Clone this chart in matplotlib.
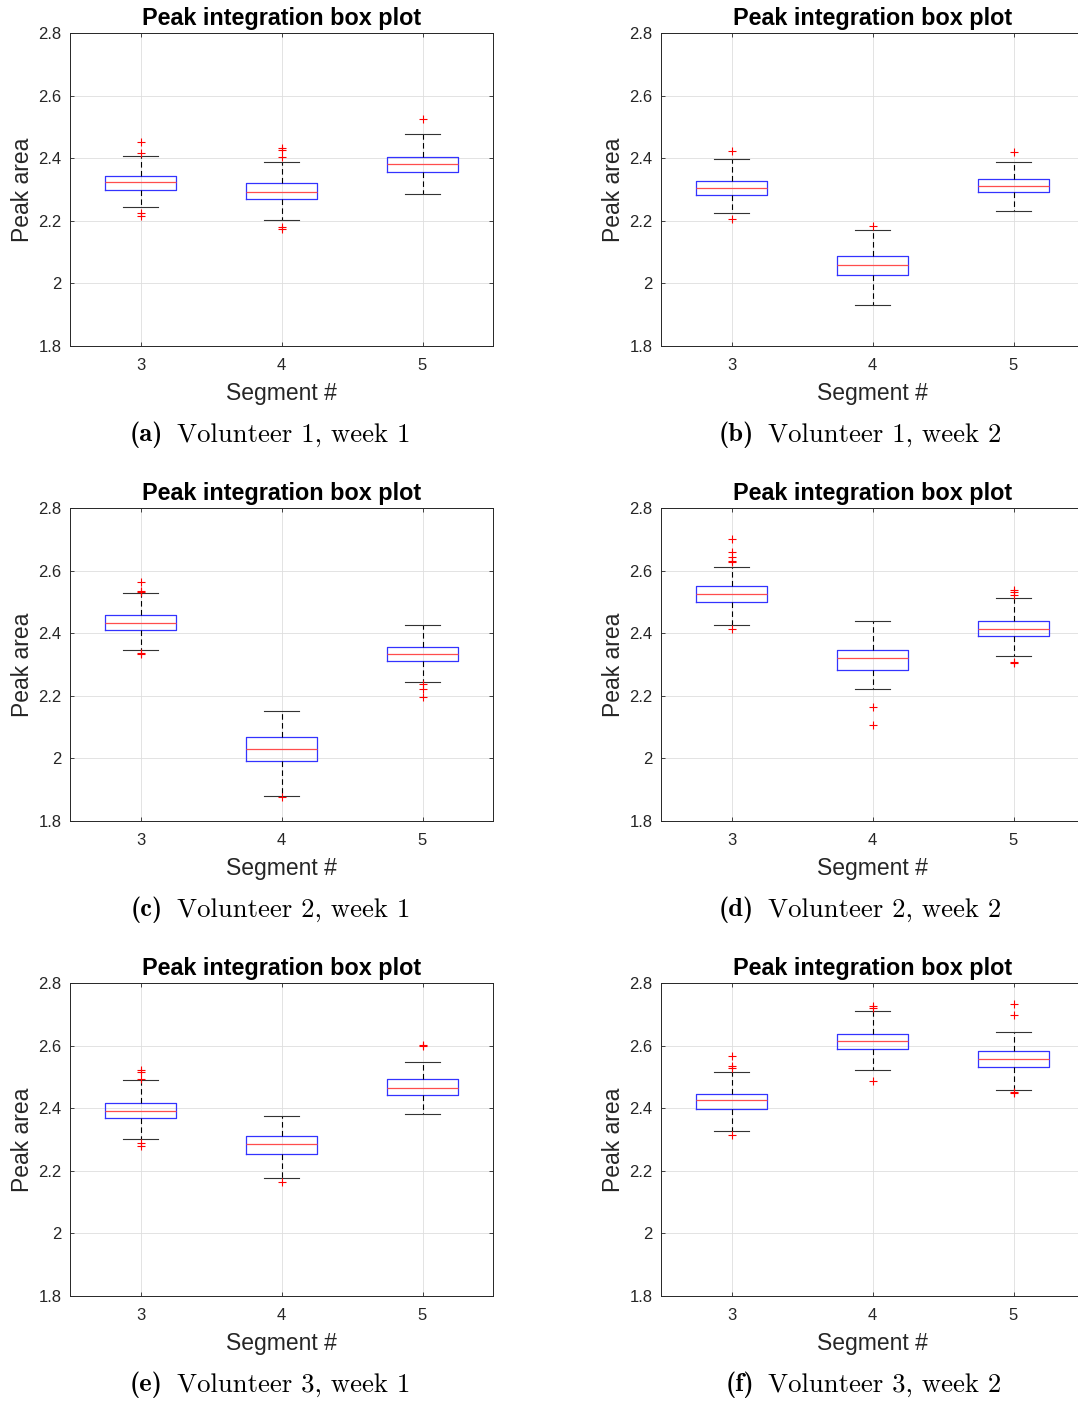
import numpy as np
import matplotlib
matplotlib.use('Agg')
import matplotlib.pyplot as plt

segments = [3, 4, 5]
captions = ['(a)', '(b)', '(c)', '(d)', '(e)', '(f)']
caption_text = ['Volunteer 1, week 1', 'Volunteer 1, week 2',
                'Volunteer 2, week 1', 'Volunteer 2, week 2',
                'Volunteer 3, week 1', 'Volunteer 3, week 2']

# box statistics per panel (a..f), per segment (3, 4, 5)
medians = [[2.324, 2.292, 2.381],
           [2.305, 2.060, 2.310],
           [2.434, 2.031, 2.332],
           [2.524, 2.320, 2.414],
           [2.392, 2.285, 2.466],
           [2.425, 2.614, 2.558]]
q1s = [[2.300, 2.269, 2.356],
       [2.282, 2.026, 2.291],
       [2.410, 1.992, 2.311],
       [2.500, 2.282, 2.390],
       [2.370, 2.255, 2.441],
       [2.397, 2.589, 2.533]]
q3s = [[2.344, 2.320, 2.405],
       [2.328, 2.088, 2.334],
       [2.459, 2.067, 2.357],
       [2.550, 2.346, 2.440],
       [2.418, 2.310, 2.492],
       [2.446, 2.638, 2.584]]
whis_lo = [[2.245, 2.204, 2.285],
           [2.225, 1.932, 2.230],
           [2.346, 1.881, 2.244],
           [2.427, 2.221, 2.327],
           [2.302, 2.176, 2.383],
           [2.328, 2.523, 2.459]]
whis_hi = [[2.407, 2.389, 2.477],
           [2.396, 2.171, 2.388],
           [2.527, 2.150, 2.426],
           [2.612, 2.439, 2.514],
           [2.490, 2.376, 2.549],
           [2.515, 2.712, 2.645]]
outliers = [[[2.452, 2.418, 2.226, 2.215], [2.432, 2.425, 2.405, 2.181, 2.175], [2.524]],
            [[2.422, 2.207], [2.183], [2.419]],
            [[2.565, 2.536, 2.533, 2.338, 2.334], [1.878], [2.237, 2.221, 2.197]],
            [[2.701, 2.659, 2.643, 2.631, 2.626, 2.414], [2.165, 2.108],
             [2.538, 2.531, 2.522, 2.309, 2.305]],
            [[2.522, 2.515, 2.494, 2.288, 2.280], [2.164], [2.603, 2.598]],
            [[2.567, 2.535, 2.530, 2.314], [2.727, 2.720, 2.486], [2.732, 2.699, 2.452, 2.448]]]

W, H = 1078, 1401
fig = plt.figure(figsize=(W / 100, H / 100), dpi=100)

ax_left = [70, 661]
ax_top = [33, 508, 983]
ax_w, ax_h = 423, 313
dark = (0.15, 0.15, 0.15)

for i in range(6):
    r, c = i // 2, i % 2
    x0 = ax_left[c]
    y0 = ax_top[r]
    ax = fig.add_axes([x0 / W, 1 - (y0 + ax_h) / H, ax_w / W, ax_h / H])

    stats = []
    for j in range(3):
        stats.append(dict(med=medians[i][j], q1=q1s[i][j], q3=q3s[i][j],
                          whislo=whis_lo[i][j], whishi=whis_hi[i][j],
                          fliers=outliers[i][j]))
    ax.bxp(stats, positions=segments, widths=0.5, capwidths=0.25,
           boxprops=dict(color=(0.2, 0.2, 1.0), linewidth=0.9),
           medianprops=dict(color=(1.0, 0.3, 0.3), linewidth=0.9),
           whiskerprops=dict(color='k', linestyle=(0, (5, 3)), linewidth=0.8),
           capprops=dict(color=(0.2, 0.2, 0.2), linewidth=0.8),
           flierprops=dict(marker='+', markeredgecolor='r', markersize=6,
                           markeredgewidth=0.8, linestyle='none'))

    ax.set_xlim(2.5, 5.5)
    ax.set_ylim(1.8, 2.8)
    ax.set_xticks(segments)
    ax.set_xticklabels([str(s) for s in segments])
    ax.set_yticks(np.arange(1.8, 2.81, 0.2))
    ax.set_yticklabels(['1.8', '2', '2.2', '2.4', '2.6', '2.8'])
    ax.grid(True, color=(0.87, 0.87, 0.87), linewidth=0.6)
    ax.set_axisbelow(True)
    ax.tick_params(direction='in', length=3, width=0.6, colors=dark,
                   labelsize=12, top=True, right=True, pad=6)
    ax.tick_params(axis='x', pad=9)
    for lab in ax.get_xticklabels() + ax.get_yticklabels():
        lab.set_family('Liberation Sans')
    for sp in ax.spines.values():
        sp.set_color(dark)
        sp.set_linewidth(0.7)

    ax.set_title('Peak integration box plot', fontsize=16.8, fontweight='bold',
                 family='Liberation Sans', pad=5.5)
    ax.set_xlabel('Segment #', fontsize=16.5, family='Liberation Sans', color=dark, labelpad=6)
    ax.set_ylabel('Peak area', fontsize=16.5, family='Liberation Sans', color=dark, labelpad=3)

    cy = 1 - (y0 + ax_h + 89) / H
    fig.text((x0 + 93) / W, cy, captions[i], ha='right', va='center',
             fontsize=19, family='cmb10')
    fig.text((x0 + 107) / W, cy, caption_text[i], ha='left', va='center',
             fontsize=19.3, family='cmr10')

fig.savefig('out.png', dpi=100)
